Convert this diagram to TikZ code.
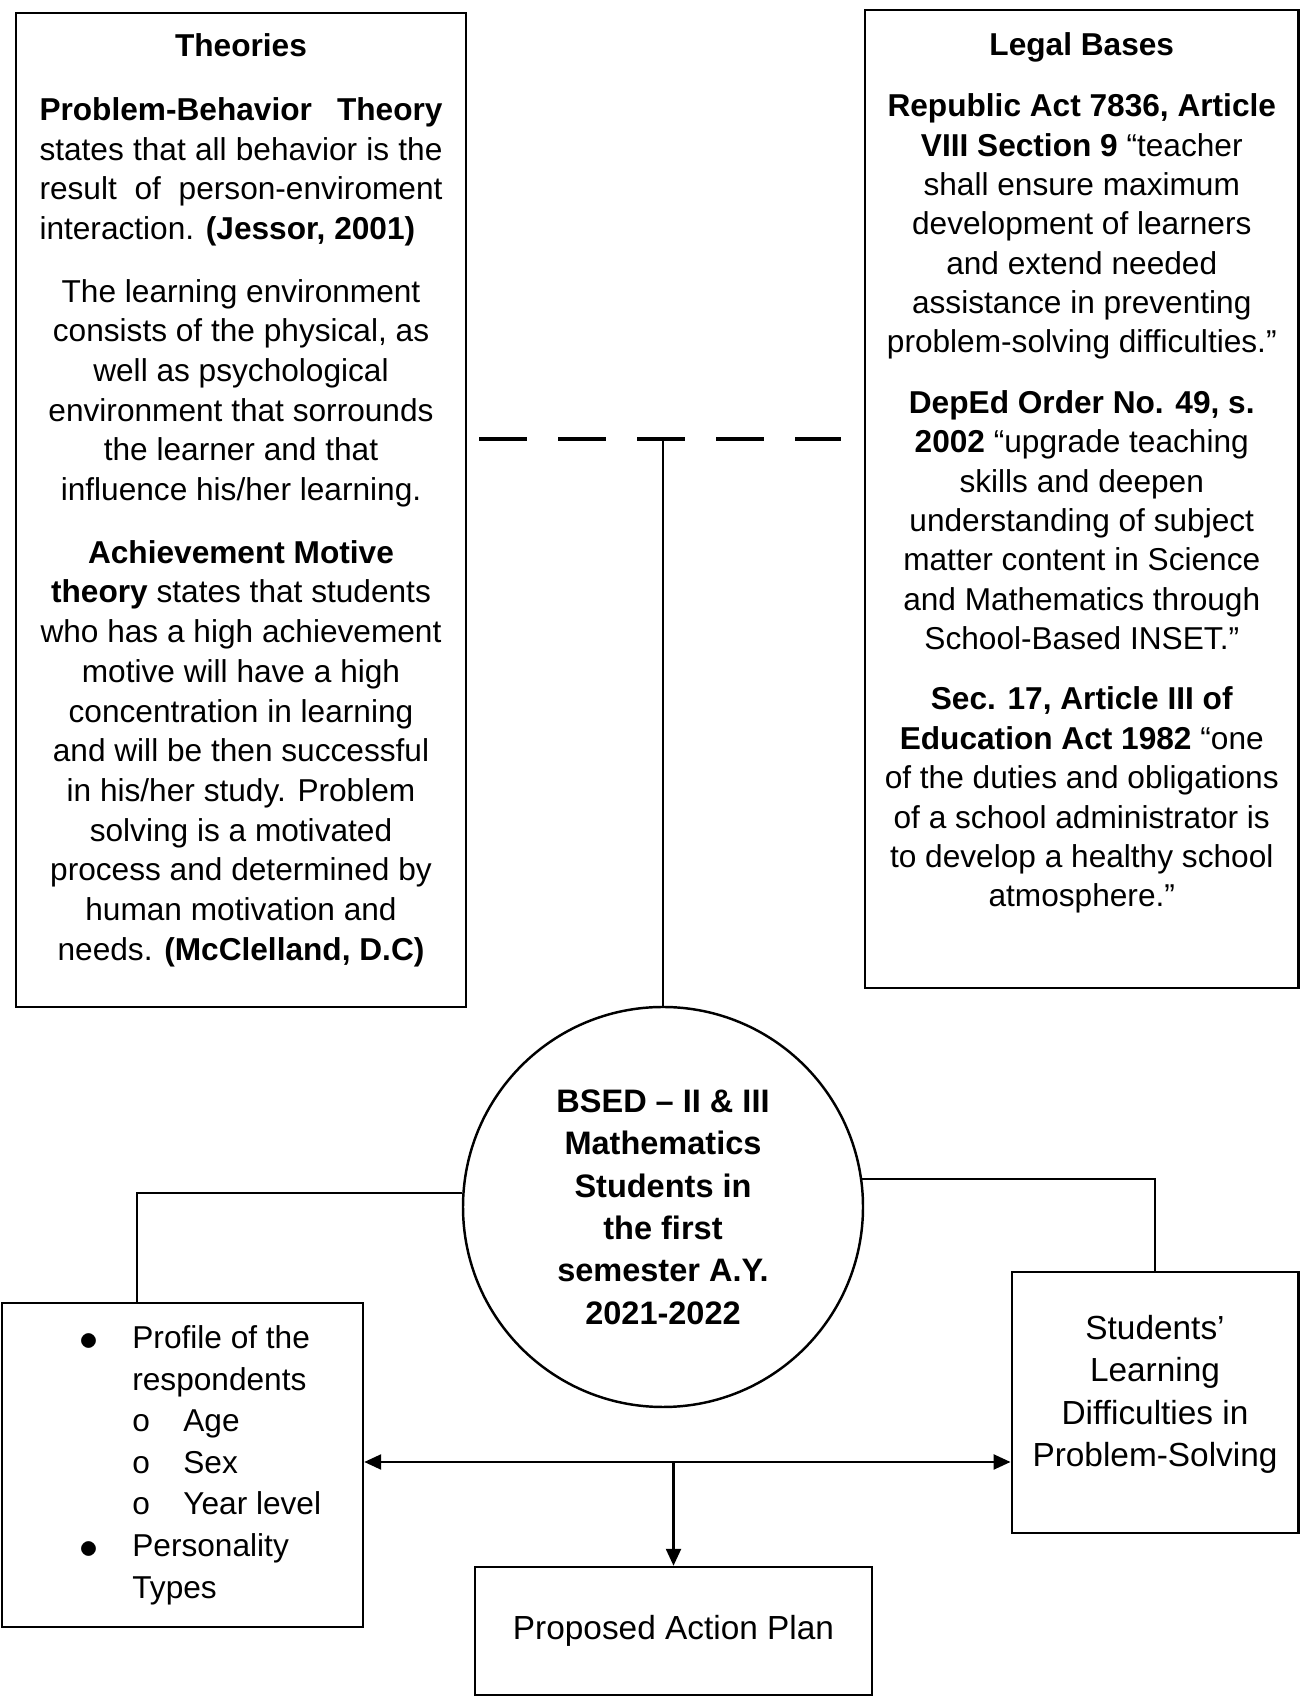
\documentclass[tikz,border=0pt]{standalone}
\usepackage{fontspec}
\setmainfont{Liberation Sans}
\usetikzlibrary{arrows.meta}
\newcommand{\fillline}[1]{\makebox[8.06cm][s]{#1}}
\newcommand{\bigdot}{\raisebox{-0.07em}{\scalebox{1.25}{$\bullet$}}}

\begin{document}
\begin{tikzpicture}[>={Triangle[length=0.34cm,width=0.3cm]},
    textbox/.style={draw, line width=1.4pt, inner sep=0pt},
    conn/.style={line width=1.4pt}]
      \useasboundingbox (0,0) rectangle (26.02,33.98);
      \fill [white] (0,0) rectangle (26.02,33.98);

      \node [textbox, inner xsep=0.45cm, inner ysep=0.42cm, font=\fontsize{18}{22.6}\selectfont] (theories) at (4.82,23.78)
        {\parbox[c][19.04cm][t]{8.1cm}{\centering
          \textbf{Theories}\\[13.5pt]
          \fillline{\textbf{Problem-Behavior Theory}}\\
          \fillline{states that all behavior is the}\\
          \fillline{result of person-enviroment}\\
          \makebox[8.06cm][l]{interaction. \textbf{(Jessor, 2001)}}\\[13pt]
          The learning environment\\ consists of the physical, as\\ well as psychological\\
          environment that sorrounds\\ the learner and that\\ influence his/her learning.\\[13pt]
          \textbf{Achievement Motive}\\ \textbf{theory} states that students\\ who has a high achievement\\
          motive will have a high\\ concentration in learning\\ and will be then successful\\
          in his/her study. Problem\\ solving is a motivated\\ process and determined by\\
          human motivation and\\ needs. \textbf{(McClelland, D.C)}}};

      \node [textbox, inner xsep=0.285cm, inner ysep=0.45cm, font=\fontsize{18}{22.4}\selectfont] (legal) at (21.635,24.0)
        {\parbox[c][18.66cm][t]{8.1cm}{\centering
          \textbf{Legal Bases}\\[12.5pt]
          \textbf{Republic Act 7836, Article}\\ \textbf{VIII Section 9} “teacher\\ shall ensure maximum\\
          development of learners\\ and extend needed\\ assistance in preventing\\
          problem-solving difficulties.”\\[12pt]
          \textbf{DepEd Order No. 49, s.}\\ \textbf{2002} “upgrade teaching\\ skills and deepen\\
          understanding of subject\\ matter content in Science\\ and Mathematics through\\
          School-Based INSET.”\\[12pt]
          \textbf{Sec. 17, Article III of}\\ \textbf{Education Act 1982} “one\\ of the duties and obligations\\
          of a school administrator is\\ to develop a healthy school\\ atmosphere.”}};

      \node [draw, circle, line width=1.4pt, minimum size=8cm, inner sep=0pt, align=center,
        font=\fontsize{18.5}{24.1}\selectfont\bfseries] (circ) at (13.26,9.84)
        {BSED – II \& III\\ Mathematics\\ Students in\\ the first\\ semester A.Y.\\ 2021-2022};

      \node [textbox, minimum width=7.22cm, minimum height=6.48cm, font=\fontsize{18}{23.7}\selectfont] (profile) at (3.65,4.68)
        {\begin{tabular}{@{\hspace{0.72cm}}p{1.05cm}@{}p{1.02cm}@{}l@{}}
          \bigdot & \multicolumn{2}{@{}l@{}}{Profile of the}\\
                  & \multicolumn{2}{@{}l@{}}{respondents}\\
                  & o & Age\\
                  & o & Sex\\
                  & o & Year level\\
          \bigdot & \multicolumn{2}{@{}l@{}}{Personality}\\
                  & \multicolumn{2}{@{}l@{}}{Types}
        \end{tabular}};

      \node [textbox, minimum width=5.73cm, minimum height=5.22cm, font=\fontsize{19}{24.2}\selectfont] (difficulty) at (23.1,5.93)
        {\parbox[c][3.5cm][t]{5.4cm}{\centering Students’\\ Learning\\ Difficulties in\\ Problem-Solving}};

      \node [textbox, minimum width=7.94cm, minimum height=2.56cm, font=\fontsize{19}{24}\selectfont] (action) at (13.47,1.36)
        {\raisebox{0.16cm}{Proposed Action Plan}};

      \coordinate (jn) at (13.26,25.2);
      \coordinate (mid) at (13.47,4.74);

      \draw [conn, line width=1.8pt, dash pattern=on 0.96cm off 0.62cm] ([xshift=0.24cm]theories.east |- jn) -- ([xshift=-0.46cm]legal.west |- jn);
      \draw [conn] (jn) -- (circ.north);
      \draw [conn] (circ.176) -| ([xshift=-0.91cm]profile.north);
      \draw [conn] (circ.8) -| (difficulty.north);
      \draw [conn, <->] (profile.east |- mid) -- (difficulty.west |- mid);
      \draw [conn, ->] (mid) -- (action.north);
    \end{tikzpicture}
\end{document}
